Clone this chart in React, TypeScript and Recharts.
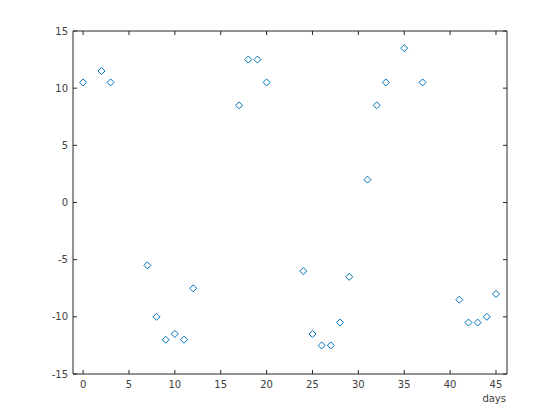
import { ScatterChart, Scatter, XAxis, YAxis } from 'recharts';

const days = [0, 2, 3, 7, 8, 9, 10, 11, 12, 17, 18, 19, 20, 24, 25, 26, 27, 28, 29, 31, 32, 33, 35, 37, 41, 42, 43, 44, 45];
const values = [10.5, 11.5, 10.5, -5.5, -10, -12, -11.5, -12, -7.5, 8.5, 12.5, 12.5, 10.5, -6, -11.5, -12.5, -12.5, -10.5, -6.5, 2, 8.5, 10.5, 13.5, 10.5, -8.5, -10.5, -10.5, -10, -8];
const xTicks = [0, 5, 10, 15, 20, 25, 30, 35, 40, 45];
const yTicks = [-15, -10, -5, 0, 5, 10, 15];

const points = days.map((d, i) => ({ day: d, value: values[i] }));

const axisColor = '#262626';
const font = { fontFamily: 'DejaVu Sans', fontSize: 10, fill: '#404040' };

// open diamond marker like matlab's 'd'
const Diamond = (props: any) => {
  const { cx, cy } = props;
  const r = 3.5;
  return (
    <path
      d={`M${cx},${cy - r}L${cx + r},${cy}L${cx},${cy + r}L${cx - r},${cy}Z`}
      fill="none"
      stroke="#0072BD"
      strokeWidth={1}
    />
  );
};

// nothing drawn, only keeps the top/right box axes alive
const Hidden = () => <g />;

export default function App() {
  return (
    <div style={{ position: 'absolute', left: 0, top: 0, background: '#fff' }}>
      <ScatterChart width={560} height={420} margin={{ top: 30, right: 52, bottom: 0, left: 0 }}>
        <XAxis
          xAxisId="bottom"
          dataKey="day"
          type="number"
          domain={[-1.1, 46.2]}
          ticks={xTicks}
          allowDataOverflow
          height={46}
          tickSize={-4}
          tickMargin={11}
          stroke={axisColor}
          tick={font}
          label={{
            content: ({ viewBox }: any) => (
              <text
                x={viewBox.x + viewBox.width - 1}
                y={viewBox.y + 28}
                textAnchor="end"
                fontFamily="DejaVu Sans"
                fontSize={10}
                fill="#404040"
              >
                days
              </text>
            ),
          }}
        />
        <XAxis
          xAxisId="top"
          orientation="top"
          dataKey="day"
          type="number"
          domain={[-1.1, 46.2]}
          ticks={xTicks}
          allowDataOverflow
          height={1}
          tickSize={-4}
          tickFormatter={() => ''}
          stroke={axisColor}
        />
        <YAxis
          yAxisId="left"
          dataKey="value"
          type="number"
          domain={[-15, 15]}
          ticks={yTicks}
          allowDataOverflow
          width={73}
          tickSize={-4}
          tickMargin={9}
          stroke={axisColor}
          tick={font}
        />
        <YAxis
          yAxisId="right"
          orientation="right"
          dataKey="value"
          type="number"
          domain={[-15, 15]}
          ticks={yTicks}
          allowDataOverflow
          width={1}
          tickSize={-4}
          tickFormatter={() => ''}
          stroke={axisColor}
        />
        <Scatter
          data={points}
          xAxisId="bottom"
          yAxisId="left"
          shape={Diamond}
          isAnimationActive={false}
        />
        <Scatter
          data={points}
          xAxisId="top"
          yAxisId="right"
          shape={Hidden}
          isAnimationActive={false}
        />
      </ScatterChart>
    </div>
  );
}
